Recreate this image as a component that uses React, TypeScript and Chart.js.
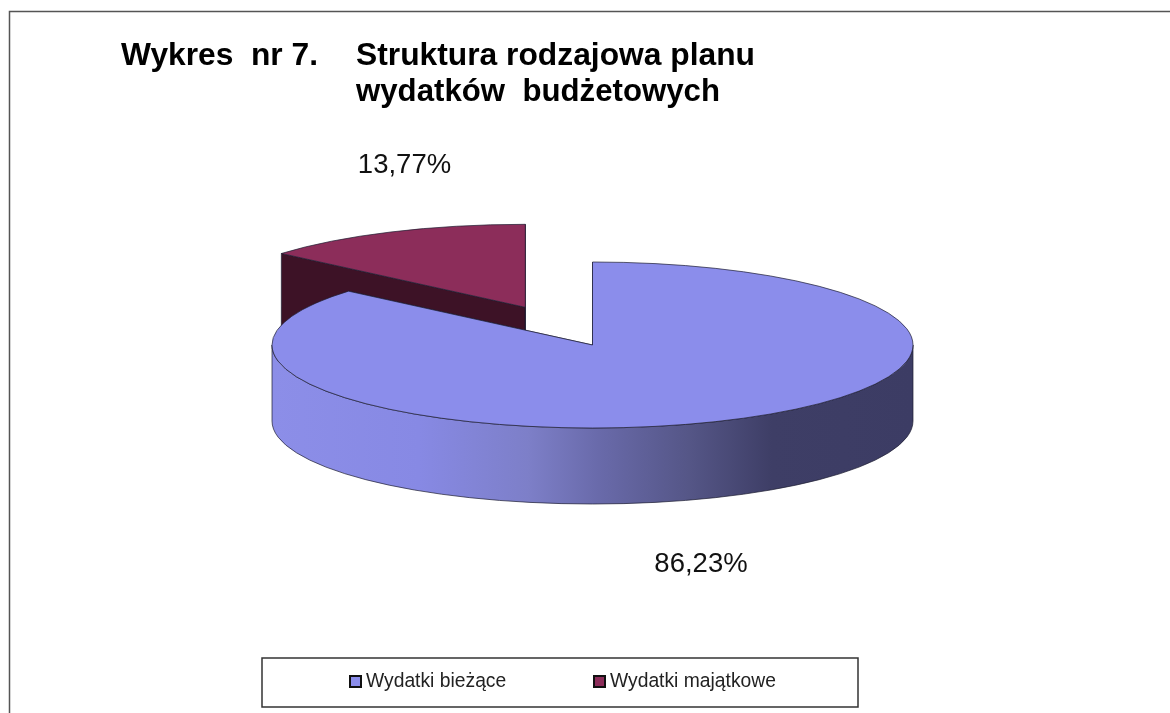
import React, { useEffect, useRef } from "react";
import { Chart, registerables } from "chart.js";

Chart.register(...registerables);

const categories = ["Wydatki bieżące", "Wydatki majątkowe"];
const shares = [86.23, 13.77];
const topColors = ["#8b8deb", "#8c2d5a"];
const wallColors = ["#8b8deb", "#3d1226"];
const titleLead = "Wykres  nr 7.";
const titleLines = ["Struktura rodzajowa planu", "wydatków  budżetowych"];

const CX = 592.5, CY = 345, RX = 320.5, RY = 83, DEPTH = 76;
const EXPLODE = [0, 0.5];
const LABEL_POS = [[701, 564.5], [404.5, 165]];
const FONT = '"Liberation Sans", Arial, sans-serif';
const EDGE = "rgba(30,30,50,0.7)";

function stretchedText(ctx: any, text: string, x: number, y: number, width: number) {
  const natural = ctx.measureText(text).width;
  ctx.save();
  ctx.translate(x, y);
  ctx.scale(width / natural, 1);
  ctx.fillText(text, 0, 0);
  ctx.restore();
}

const pie3d = {
  id: "pie3d",
  beforeDatasetsDraw(chart: any) {
    const ctx = chart.ctx;
    const arcs = chart.getDatasetMeta(0).data;
    const order = [1, 0];
    for (const i of order) {
      const a = arcs[i];
      const mid = (a.startAngle + a.endAngle) / 2;
      const cx = CX + Math.cos(mid) * EXPLODE[i] * RX;
      const cy = CY + Math.sin(mid) * EXPLODE[i] * RY;
      const sx = cx + Math.cos(a.startAngle) * RX, sy = cy + Math.sin(a.startAngle) * RY;
      const ex = cx + Math.cos(a.endAngle) * RX, ey = cy + Math.sin(a.endAngle) * RY;

      let fill: any = wallColors[i];
      if (i === 0) {
        const g = ctx.createLinearGradient(CX - RX, 0, CX + RX, 0);
        g.addColorStop(0, "#8c8ee8");
        g.addColorStop(0.23, "#8789e4");
        g.addColorStop(0.4, "#7d7fc8");
        g.addColorStop(0.51, "#696aaa");
        g.addColorStop(0.65, "#555687");
        g.addColorStop(0.78, "#3e3e66");
        g.addColorStop(1, "#3c3c64");
        fill = g;
      }
      ctx.save();
      ctx.lineWidth = 1;
      ctx.strokeStyle = EDGE;
      ctx.fillStyle = fill;
      // radial faces
      for (const [px, py] of [[sx, sy], [ex, ey]]) {
        ctx.beginPath();
        ctx.moveTo(cx, cy);
        ctx.lineTo(px, py);
        ctx.lineTo(px, py + DEPTH);
        ctx.lineTo(cx, cy + DEPTH);
        ctx.closePath();
        ctx.fill();
        ctx.stroke();
      }
      // outer wall: only the front half of the ring can be seen
      const t0 = Math.max(a.startAngle, 0), t1 = Math.min(a.endAngle, Math.PI);
      if (t1 > t0) {
        ctx.beginPath();
        ctx.ellipse(cx, cy, RX, RY, 0, t0, t1);
        ctx.ellipse(cx, cy + DEPTH, RX, RY, 0, t1, t0, true);
        ctx.closePath();
        ctx.fill();
        ctx.stroke();
      }
      // top face, drawn by the library's arc element
      ctx.save();
      ctx.translate(cx, cy);
      ctx.scale(1, RY / RX);
      ctx.translate(-a.x, -a.y);
      a.draw(ctx);
      ctx.restore();
      ctx.beginPath();
      ctx.moveTo(cx, cy);
      ctx.ellipse(cx, cy, RX, RY, 0, a.startAngle, a.endAngle);
      ctx.closePath();
      ctx.stroke();
      ctx.restore();
    }
    return false;
  },
  afterDraw(chart: any) {
    const ctx = chart.ctx;
    ctx.save();
    // frame
    ctx.strokeStyle = "#555";
    ctx.lineWidth = 1.5;
    ctx.beginPath();
    ctx.moveTo(9.5, 713);
    ctx.lineTo(9.5, 11.5);
    ctx.lineTo(1170, 11.5);
    ctx.stroke();

    // title
    ctx.fillStyle = "#000";
    ctx.textBaseline = "alphabetic";
    ctx.textAlign = "left";
    ctx.font = `bold 30.5px ${FONT}`;
    stretchedText(ctx, titleLead, 121, 65, 197);
    stretchedText(ctx, titleLines[0], 356, 65, 399);
    stretchedText(ctx, titleLines[1], 356, 101, 364);

    // value labels
    ctx.font = `27.5px ${FONT}`;
    ctx.fillStyle = "#111";
    ctx.textAlign = "center";
    ctx.textBaseline = "middle";
    shares.forEach((v, i) => {
      ctx.fillText(v.toFixed(2).replace(".", ",") + "%", LABEL_POS[i][0], LABEL_POS[i][1]);
    });

    // legend
    ctx.strokeStyle = "#333";
    ctx.lineWidth = 1.5;
    ctx.fillStyle = "#fff";
    ctx.beginPath();
    ctx.rect(262, 658, 596, 49);
    ctx.fill();
    ctx.stroke();
    ctx.textAlign = "left";
    ctx.font = `19.3px ${FONT}`;
    const lx = [350, 594];
    categories.forEach((c, i) => {
      ctx.fillStyle = topColors[i];
      ctx.strokeStyle = "#111";
      ctx.lineWidth = 2;
      ctx.beginPath();
      ctx.rect(lx[i], 676, 11, 11);
      ctx.fill();
      ctx.stroke();
      ctx.fillStyle = "#222";
      ctx.fillText(c, lx[i] + 16, 682);
    });
    ctx.restore();
  },
};

export default function App() {
  const ref = useRef<HTMLCanvasElement>(null);
  useEffect(() => {
    document.body.style.margin = "0";
    const chart = new Chart(ref.current as any, {
      type: "pie",
      data: {
        labels: categories,
        datasets: [
          {
            data: shares,
            backgroundColor: topColors,
            borderWidth: 0,
            hoverOffset: 0,
          },
        ],
      },
      options: {
        responsive: false,
        animation: false,
        radius: RX,
        plugins: {
          legend: { display: false },
          tooltip: { enabled: false },
          title: { display: false },
        },
      } as any,
      plugins: [pie3d as any],
    });
    return () => chart.destroy();
  }, []);
  return (
    <canvas
      ref={ref}
      width={1170}
      height={713}
      style={{ display: "block", width: 1170, height: 713, filter: "blur(0.5px)" }}
    />
  );
}
